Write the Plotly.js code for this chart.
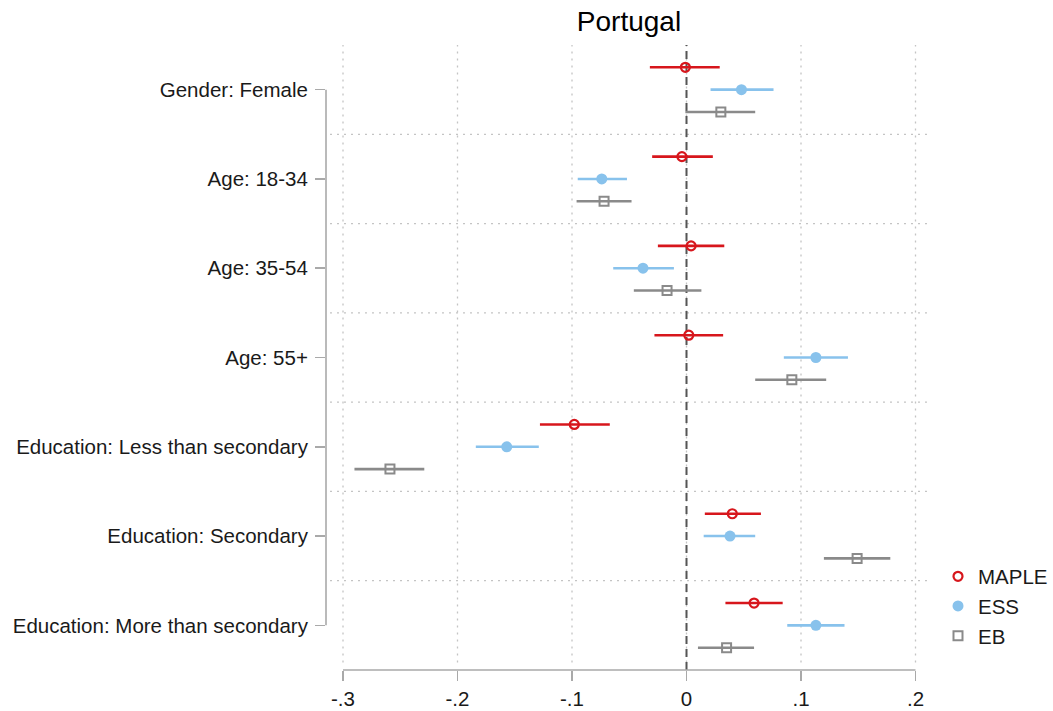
<!DOCTYPE html>
<html>
<head>
<meta charset="utf-8">
<script src="https://cdn.plot.ly/plotly-3.0.1.min.js"></script>
<style>
  html, body { margin: 0; padding: 0; background: #fff; }
  #chart { width: 1053px; height: 711px; }
</style>
</head>
<body>
<div id="chart"></div>
<script>
// Coefficient estimates (with 95% CI bounds) by group, for each survey source
const categories = [
  'Gender: Female',
  'Age: 18-34',
  'Age: 35-54',
  'Age: 55+',
  'Education: Less than secondary',
  'Education: Secondary',
  'Education: More than secondary'
];

const mapleEst = [-0.001, -0.004, 0.004, 0.002, -0.098, 0.040, 0.059];
const mapleLo  = [-0.032, -0.030, -0.025, -0.028, -0.128, 0.016, 0.034];
const mapleHi  = [0.029, 0.023, 0.033, 0.032, -0.067, 0.065, 0.084];

const essEst = [0.048, -0.074, -0.038, 0.113, -0.157, 0.038, 0.113];
const essLo  = [0.021, -0.095, -0.064, 0.085, -0.184, 0.015, 0.088];
const essHi  = [0.076, -0.052, -0.011, 0.141, -0.129, 0.060, 0.138];

const ebEst = [0.030, -0.072, -0.017, 0.092, -0.259, 0.149, 0.035];
const ebLo  = [-0.001, -0.096, -0.046, 0.060, -0.290, 0.120, 0.010];
const ebHi  = [0.060, -0.048, 0.013, 0.122, -0.229, 0.178, 0.059];

const xTickVals = [-0.3, -0.2, -0.1, 0, 0.1, 0.2];
const xTickText = ['-.3', '-.2', '-.1', '0', '.1', '.2'];

const FONT = 'Liberation Sans, Arial, Helvetica, sans-serif';
const AXIS_GRAY = '#a9a9a9';
const GRID_GRAY = '#c4c4c4';
const DOTS = '2px,5px';

// Each source is shifted vertically inside its group row
function series(name, est, lo, hi, offset, color, marker) {
  return {
    type: 'scatter',
    mode: 'markers',
    name: name,
    x: est,
    y: est.map((_, i) => i + offset),
    marker: Object.assign({ color: color }, marker),
    error_x: {
      type: 'data',
      symmetric: false,
      array: hi.map((h, i) => h - est[i]),
      arrayminus: lo.map((l, i) => est[i] - l),
      width: 0,
      thickness: 2.6,
      color: color
    },
    hoverinfo: 'x+name',
    cliponaxis: false
  };
}

const traces = [
  series('MAPLE', mapleEst, mapleLo, mapleHi, -0.25, '#d7161c',
         { symbol: 'circle-open', size: 9, line: { width: 2.2, color: '#d7161c' } }),
  series('ESS', essEst, essLo, essHi, 0, '#88c2ec',
         { symbol: 'circle', size: 11, line: { width: 0 } }),
  series('EB', ebEst, ebLo, ebHi, 0.25, '#8a8a8a',
         { symbol: 'square-open', size: 9, line: { width: 2, color: '#8a8a8a' } })
];

const shapes = [];
// dotted vertical grid at each x tick, stopping just above the bottom spine
xTickVals.forEach(v => {
  shapes.push({
    type: 'line', xref: 'x', yref: 'paper',
    x0: v, x1: v, y0: 0.012, y1: 1,
    line: { color: GRID_GRAY, width: 1.3, dash: DOTS },
    layer: 'below'
  });
});
// dotted separators between groups
for (let i = 0; i < categories.length - 1; i++) {
  shapes.push({
    type: 'line', xref: 'paper', yref: 'y',
    x0: 0.0066, x1: 1, y0: i + 0.5, y1: i + 0.5,
    line: { color: GRID_GRAY, width: 1.3, dash: DOTS },
    layer: 'below'
  });
}
// left axis spine spanning the first to the last group
shapes.push({
  type: 'line', xref: 'paper', yref: 'y',
  x0: 0, x1: 0, y0: 0, y1: categories.length - 1,
  line: { color: AXIS_GRAY, width: 1.6 }
});
// bottom axis spine spanning the tick range
shapes.push({
  type: 'line', xref: 'x', yref: 'paper',
  x0: xTickVals[0], x1: xTickVals[xTickVals.length - 1], y0: 0, y1: 0,
  line: { color: AXIS_GRAY, width: 1.6 }
});
// reference line at zero
shapes.push({
  type: 'line', xref: 'x', yref: 'paper',
  x0: 0, x1: 0, y0: 0, y1: 1,
  line: { color: '#555555', width: 2, dash: '8px,5px' },
  layer: 'below'
});

const layout = {
  width: 1053,
  height: 711,
  paper_bgcolor: '#ffffff',
  plot_bgcolor: '#ffffff',
  margin: { l: 326, r: 121, t: 45, b: 41, autoexpand: false },
  font: { family: FONT, size: 20.5, color: '#1a1a1a' },
  title: {
    text: 'Portugal',
    font: { family: FONT, size: 28, color: '#000000' },
    x: 0.5, xref: 'paper',
    y: 1 - 11 / 711, yref: 'container', yanchor: 'top'
  },
  xaxis: {
    range: [-0.31485, 0.21441],
    tickvals: xTickVals,
    ticktext: xTickText,
    ticks: 'outside',
    ticklen: 10,
    tickwidth: 1.6,
    tickcolor: AXIS_GRAY,
    showgrid: false,
    zeroline: false,
    showline: false,
    tickfont: { family: FONT, size: 20.5, color: '#1a1a1a' },
    fixedrange: true
  },
  yaxis: {
    range: [6.5, -0.5],
    tickvals: categories.map((_, i) => i),
    ticktext: categories,
    ticks: 'outside',
    ticklen: 10,
    tickwidth: 1.6,
    tickcolor: AXIS_GRAY,
    ticklabelstandoff: 3,
    showgrid: false,
    zeroline: false,
    showline: false,
    tickfont: { family: FONT, size: 20.5, color: '#1a1a1a' },
    fixedrange: true
  },
  legend: {
    x: 1.0099, xanchor: 'left',
    y: 0.1024, yanchor: 'middle',
    font: { family: FONT, size: 20.5, color: '#1a1a1a' },
    bgcolor: 'rgba(0,0,0,0)',
    borderwidth: 0
  },
  shapes: shapes,
  showlegend: true
};

Plotly.newPlot('chart', traces, layout, { displayModeBar: false, staticPlot: true });
</script>
</body>
</html>
